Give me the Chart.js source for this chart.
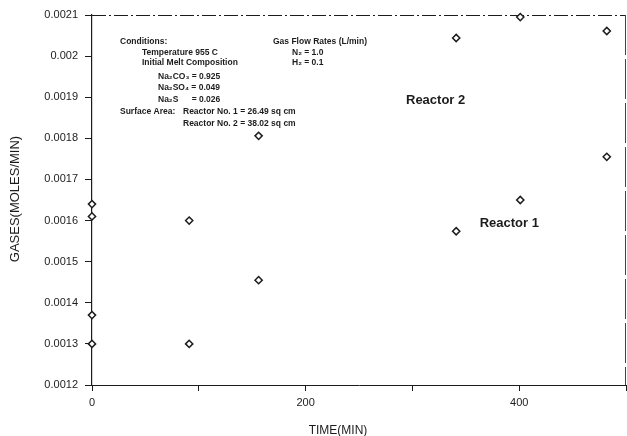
<!DOCTYPE html>
<html>
<head>
<meta charset="utf-8">
<script src="https://cdn.jsdelivr.net/npm/chart.js@4"></script>
<style>
  html, body { margin: 0; padding: 0; background: #fff; }
</style>
</head>
<body>
<canvas id="myChart" width="627" height="436"></canvas>
<script>
// off-gas rate vs time for the two reactors
var reactor1Time = [0, 0, 91, 156, 341, 401, 482];
var reactor1Gas = [0.00137, 0.00130, 0.00130, 0.001455, 0.001574, 0.00165, 0.001755];

var reactor2Time = [0, 0, 91, 156, 341, 401, 482];
var reactor2Gas = [0.00164, 0.00161, 0.00160, 0.001806, 0.002044, 0.002095, 0.002061];

var xTickLabels = [0, 200, 400];
var xTitle = 'TIME(MIN)';
var yTitle = 'GASES(MOLES/MIN)';

var conditionLines = [
  'Conditions:',
  'Temperature 955 C',
  'Initial Melt Composition',
  'Na\u2082CO\u2083 = 0.925',
  'Na\u2082SO\u2084 = 0.049',
  'Na\u2082S',
  '= 0.026',
  'Surface Area:',
  'Reactor No. 1 = 26.49 sq cm',
  'Reactor No. 2 = 38.02 sq cm',
  'Gas Flow Rates (L/min)',
  'N\u2082 = 1.0',
  'H\u2082 = 0.1'
];

var seriesLabels = [
  {text: 'Reactor 2', t: 294, g: 0.001893},
  {text: 'Reactor 1', t: 363, g: 0.001592}
];

var font = '"Liberation Sans", Arial, sans-serif';
var ink = '#1c1c1c';

function toPoints(xs, ys) {
  var pts = [];
  for (var i = 0; i < xs.length; i++) pts.push({x: xs[i], y: ys[i]});
  return pts;
}

var pointStyle = {
  pointStyle: 'rectRot',
  pointRadius: 3.6,
  pointBorderWidth: 1.5,
  pointBorderColor: ink,
  pointBackgroundColor: '#fff',
  showLine: false,
  clip: false
};

// top and right edges of the plot box
var framePlugin = {
  id: 'frame',
  beforeDatasetsDraw: function(chart) {
    var ctx = chart.ctx, a = chart.chartArea;
    ctx.save();
    ctx.strokeStyle = ink;
    ctx.lineWidth = 1;
    ctx.setLineDash([14, 3, 2, 3]);
    ctx.beginPath();
    ctx.moveTo(a.left, a.top + 0.5);
    ctx.lineTo(a.right, a.top + 0.5);
    ctx.stroke();
    ctx.strokeStyle = '#444';
    ctx.setLineDash([40, 4]);
    ctx.beginPath();
    ctx.moveTo(a.right - 0.5, a.top);
    ctx.lineTo(a.right - 0.5, a.bottom);
    ctx.stroke();
    ctx.restore();
  }
};

// free text: axis titles, reactor labels and the conditions box
var notesPlugin = {
  id: 'notes',
  afterDraw: function(chart) {
    var ctx = chart.ctx;
    var xs = chart.scales.x, ys = chart.scales.y;
    ctx.save();
    ctx.fillStyle = ink;
    ctx.textBaseline = 'middle';

    ctx.font = '12px ' + font;
    ctx.textAlign = 'center';
    ctx.fillText(xTitle, 338, 431);
    ctx.save();
    ctx.translate(15, 199);
    ctx.rotate(-Math.PI / 2);
    ctx.font = '13px ' + font;
    ctx.fillText(yTitle, 0, 0);
    ctx.restore();

    ctx.textAlign = 'left';
    ctx.font = 'bold 13px ' + font;
    seriesLabels.forEach(function(l) {
      ctx.fillText(l.text, xs.getPixelForValue(l.t), ys.getPixelForValue(l.g));
    });

    ctx.font = 'bold 8.5px ' + font;
    // line up the "= 0.026" with the equals signs above it
    var eqX = 158 + ctx.measureText('Na\u2082CO\u2083 ').width;
    var pos = [
      [120, 42], [142, 53], [142, 63], [158, 77], [158, 88], [158, 100], [eqX, 100],
      [120, 112], [183, 112], [183, 124], [273, 42], [292, 53], [292, 63]
    ];
    conditionLines.forEach(function(t, i) {
      ctx.fillText(t, pos[i][0], pos[i][1]);
    });
    ctx.restore();
  }
};

var config = {
  type: 'scatter',
  data: {
    datasets: [
      Object.assign({label: 'Reactor 1', data: toPoints(reactor1Time, reactor1Gas)}, pointStyle),
      Object.assign({label: 'Reactor 2', data: toPoints(reactor2Time, reactor2Gas)}, pointStyle)
    ]
  },
  options: {
    responsive: false,
    animation: false,
    layout: {autoPadding: false, padding: {top: 15, right: 1, left: 0, bottom: 0}},
    plugins: {
      legend: {display: false},
      tooltip: {enabled: false}
    },
    scales: {
      x: {
        type: 'linear',
        min: 0,
        max: 500,
        afterFit: function(s) {
          s.height = 51;
          s.paddingLeft = 0;
          s.paddingRight = 0;
        },
        border: {color: ink, width: 1, dash: [12, 3, 2, 3]},
        grid: {drawOnChartArea: false, drawTicks: true, tickLength: 6, color: ink},
        ticks: {
          stepSize: 100,
          autoSkip: false,
          color: ink,
          padding: 5,
          maxRotation: 0,
          font: {family: font, size: 11},
          callback: function(v) {
            var r = Math.round(v);
            return xTickLabels.indexOf(r) >= 0 ? String(r) : '';
          }
        }
      },
      y: {
        min: 0.0012,
        max: 0.0021,
        afterFit: function(s) { s.width = 92; },
        border: {color: ink, width: 1.2},
        grid: {drawOnChartArea: false, drawTicks: true, tickLength: 7, color: ink},
        ticks: {
          stepSize: 0.0001,
          color: ink,
          padding: 7,
          font: {family: font, size: 11},
          callback: function(v) { return String(parseFloat(v.toFixed(4))); }
        }
      }
    }
  },
  plugins: [framePlugin, notesPlugin]
};

var myChart = new Chart(document.getElementById('myChart'), config);
</script>
</body>
</html>
